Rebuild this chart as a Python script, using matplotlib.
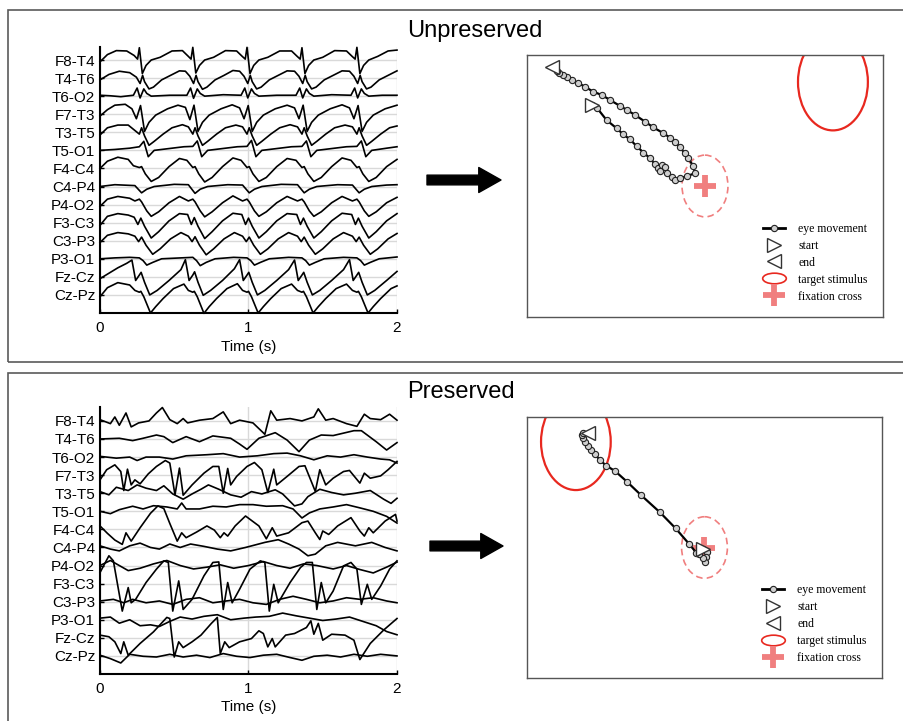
import numpy as np
import matplotlib.pyplot as plt
from matplotlib.patches import Ellipse, Rectangle, FancyArrowPatch
from matplotlib.lines import Line2D
from matplotlib.path import Path
from matplotlib.transforms import Affine2D

plt.rcParams['font.family'] = ['Liberation Sans', 'DejaVu Sans']

# --- EEG channels (top to bottom) ---
channels = ['F8-T4', 'T4-T6', 'T6-O2', 'F7-T3', 'T3-T5', 'T5-O1', 'F4-C4',
            'C4-P4', 'P4-O2', 'F3-C3', 'C3-P3', 'P3-O1', 'Fz-Cz', 'Cz-Pz']
time_ticks = [0, 1, 2]

# amplitudes in units of channel spacing, (time s, amplitude)
# unpreserved recording
up_F8T4 = [(0, -0.1), (0.05, 0.3), (0.11, 0.52), (0.18, 0.5), (0.23, 0.25),
           (0.253, 0.05), (0.265, 0.68), (0.285, -0.75), (0.31, -0.3), (0.345, 0.0), (0.405, 0.15), (0.485, 0.5), (0.555, 0.52), (0.595, 0.2),
           (0.613, 0.05), (0.625, 0.7), (0.645, -0.72), (0.67, -0.3), (0.705, 0.0), (0.765, 0.15), (0.845, 0.52), (0.92, 0.5), (0.958, 0.2),
           (0.978, 0.05), (0.99, 0.7), (1.01, -0.75), (1.035, -0.3), (1.07, 0.0), (1.13, 0.15), (1.21, 0.5), (1.29, 0.5), (1.328, 0.2),
           (1.348, 0.05), (1.36, 0.68), (1.38, -0.75), (1.405, -0.3), (1.44, 0.0), (1.5, 0.15), (1.58, 0.52), (1.66, 0.5), (1.698, 0.2),
           (1.718, 0.05), (1.73, 0.7), (1.75, -0.75), (1.775, -0.3), (1.81, 0.0), (1.87, 0.2), (1.94, 0.5), (2.0, 0.55)]
up_T4T6 = [(0, -0.1), (0.06, 0.2), (0.13, 0.38), (0.2, 0.3), (0.245, 0.05),
           (0.27, -0.3), (0.287, 0.15), (0.3, -0.2), (0.33, -0.6), (0.36, -0.5), (0.415, -0.1), (0.475, 0.15), (0.535, 0.4), (0.575, 0.38), (0.605, 0.1),
           (0.63, -0.3), (0.647, 0.15), (0.66, -0.2), (0.69, -0.62), (0.72, -0.5), (0.775, -0.1), (0.835, 0.15), (0.895, 0.42), (0.94, 0.38), (0.97, 0.1),
           (0.995, -0.3), (1.012, 0.15), (1.025, -0.2), (1.055, -0.6), (1.085, -0.5), (1.14, -0.1), (1.2, 0.15), (1.26, 0.4), (1.31, 0.38), (1.34, 0.1),
           (1.365, -0.3), (1.382, 0.15), (1.395, -0.2), (1.425, -0.6), (1.455, -0.5), (1.51, -0.1), (1.57, 0.15), (1.63, 0.4), (1.68, 0.38), (1.71, 0.1),
           (1.735, -0.3), (1.752, 0.15), (1.765, -0.2), (1.795, -0.6), (1.825, -0.5), (1.88, -0.1), (1.94, 0.15), (2.0, 0.4)]
up_T6O2 = [(0, 0.05), (0.07, 0.02), (0.14, -0.03), (0.225, 0.05),
           (0.25, 0.45), (0.27, -0.1), (0.295, 0.4), (0.315, 0.15), (0.345, 0.0), (0.47, 0.05), (0.585, 0.05),
           (0.61, 0.45), (0.63, -0.12), (0.655, 0.4), (0.675, 0.15), (0.705, 0.0), (0.83, 0.08), (0.95, 0.05),
           (0.975, 0.45), (0.995, -0.1), (1.02, 0.4), (1.04, 0.15), (1.07, 0.0), (1.19, 0.05), (1.32, 0.05),
           (1.345, 0.45), (1.365, -0.1), (1.39, 0.4), (1.41, 0.15), (1.44, 0.0), (1.56, 0.08), (1.69, 0.05),
           (1.715, 0.45), (1.735, -0.1), (1.76, 0.4), (1.78, 0.15), (1.81, 0.0), (1.9, 0.05), (2.0, 0.05)]
up_F7T3 = [(0, -0.1), (0.05, 0.25), (0.1, 0.5), (0.17, 0.55), (0.215, 0.3),
           (0.245, -0.25), (0.273, 0.48), (0.3, -0.95), (0.33, -0.45), (0.375, -0.05), (0.455, 0.3), (0.525, 0.5), (0.575, 0.38),
           (0.605, -0.3), (0.633, 0.5), (0.66, -0.95), (0.69, -0.45), (0.735, -0.05), (0.815, 0.3), (0.89, 0.52), (0.94, 0.35),
           (0.97, -0.25), (0.998, 0.48), (1.025, -0.95), (1.055, -0.45), (1.1, -0.05), (1.18, 0.3), (1.26, 0.5), (1.31, 0.35),
           (1.34, -0.25), (1.368, 0.5), (1.395, -0.95), (1.425, -0.45), (1.47, -0.05), (1.55, 0.3), (1.63, 0.52), (1.68, 0.35),
           (1.71, -0.25), (1.738, 0.48), (1.765, -0.95), (1.795, -0.45), (1.84, -0.05), (1.92, 0.3), (2.0, 0.5)]
up_T3T5 = [(0, -0.15), (0.05, 0.25), (0.12, 0.4), (0.19, 0.4), (0.235, 0.1),
           (0.265, -0.1), (0.28, 0.25), (0.3, -0.2), (0.33, -0.72), (0.365, -0.5), (0.425, -0.1), (0.485, 0.25), (0.555, 0.42), (0.595, 0.3),
           (0.625, -0.1), (0.64, 0.25), (0.66, -0.2), (0.69, -0.72), (0.725, -0.5), (0.785, -0.1), (0.845, 0.25), (0.915, 0.4), (0.96, 0.3),
           (0.99, -0.1), (1.005, 0.25), (1.025, -0.2), (1.055, -0.72), (1.09, -0.5), (1.15, -0.1), (1.21, 0.25), (1.28, 0.42), (1.33, 0.3),
           (1.36, -0.1), (1.375, 0.25), (1.395, -0.2), (1.425, -0.72), (1.46, -0.5), (1.52, -0.1), (1.58, 0.25), (1.65, 0.4), (1.7, 0.3),
           (1.73, -0.1), (1.745, 0.25), (1.765, -0.2), (1.795, -0.72), (1.83, -0.5), (1.89, -0.1), (1.95, 0.25), (2.0, 0.35)]
up_T5O1 = [(0, 0.0), (0.1, 0.05), (0.2, 0.12), (0.265, 0.2), (0.295, 0.5), (0.325, -0.35), (0.365, 0.0), (0.465, 0.1), (0.565, 0.2),
           (0.625, 0.22), (0.655, 0.52), (0.685, -0.35), (0.725, 0.0), (0.825, 0.1), (0.925, 0.2),
           (0.99, 0.22), (1.02, 0.55), (1.05, -0.35), (1.09, 0.0), (1.19, 0.1), (1.29, 0.2),
           (1.36, 0.22), (1.39, 0.52), (1.42, -0.35), (1.46, 0.0), (1.56, 0.1), (1.66, 0.2),
           (1.73, 0.22), (1.76, 0.52), (1.79, -0.35), (1.83, 0.0), (1.93, 0.12), (2.0, 0.2)]
up_F4C4 = [(0, 0.0), (0.05, 0.4), (0.12, 0.62), (0.19, 0.5), (0.225, 0.15),
           (0.265, 0.05), (0.28, 0.1), (0.305, -0.3), (0.345, -0.72), (0.395, -0.5), (0.465, 0.1), (0.535, 0.55), (0.585, 0.45),
           (0.625, 0.05), (0.64, 0.1), (0.665, -0.3), (0.705, -0.75), (0.755, -0.5), (0.825, 0.1), (0.895, 0.58), (0.95, 0.45),
           (0.99, 0.05), (1.005, 0.1), (1.03, -0.3), (1.07, -0.72), (1.12, -0.5), (1.19, 0.1), (1.26, 0.55), (1.32, 0.45),
           (1.36, 0.05), (1.375, 0.1), (1.4, -0.3), (1.44, -0.72), (1.49, -0.5), (1.56, 0.1), (1.63, 0.58), (1.69, 0.45),
           (1.73, 0.05), (1.745, 0.1), (1.77, -0.3), (1.81, -0.72), (1.86, -0.5), (1.93, 0.1), (2.0, 0.5)]
up_C4P4 = [(0, 0.0), (0.1, 0.1), (0.235, 0.05), (0.28, -0.35), (0.315, -0.15), (0.365, 0.0), (0.5, 0.12), (0.595, 0.1),
           (0.64, -0.38), (0.675, -0.15), (0.725, 0.0), (0.86, 0.1), (0.96, 0.08),
           (1.005, -0.35), (1.04, -0.15), (1.09, 0.0), (1.22, 0.12), (1.33, 0.1),
           (1.375, -0.35), (1.41, -0.15), (1.46, 0.0), (1.6, 0.1), (1.7, 0.08),
           (1.745, -0.35), (1.78, -0.15), (1.83, 0.0), (1.93, 0.08), (2.0, 0.1)]
up_P4O2 = [(0, -0.1), (0.05, 0.3), (0.12, 0.45), (0.2, 0.35), (0.235, 0.2),
           (0.265, 0.3), (0.28, 0.15), (0.315, -0.35), (0.345, -0.65), (0.395, -0.4), (0.465, 0.1), (0.535, 0.45), (0.595, 0.2),
           (0.625, 0.3), (0.64, 0.15), (0.675, -0.35), (0.705, -0.68), (0.755, -0.4), (0.825, 0.1), (0.895, 0.48), (0.96, 0.2),
           (0.99, 0.3), (1.005, 0.15), (1.04, -0.35), (1.07, -0.65), (1.12, -0.4), (1.19, 0.1), (1.26, 0.45), (1.33, 0.2),
           (1.36, 0.3), (1.375, 0.15), (1.41, -0.35), (1.44, -0.65), (1.49, -0.4), (1.56, 0.1), (1.63, 0.45), (1.7, 0.2),
           (1.73, 0.3), (1.745, 0.15), (1.78, -0.35), (1.81, -0.65), (1.86, -0.4), (1.93, 0.1), (2.0, 0.4)]
up_F3C3 = [(0, -0.15), (0.05, 0.35), (0.12, 0.5), (0.19, 0.42), (0.23, 0.3),
           (0.255, -0.1), (0.275, 0.25), (0.3, -0.2), (0.345, -0.85), (0.395, -0.5), (0.465, 0.1), (0.535, 0.5), (0.59, 0.45),
           (0.615, -0.1), (0.635, 0.28), (0.66, -0.2), (0.705, -0.88), (0.755, -0.5), (0.825, 0.1), (0.895, 0.52), (0.955, 0.45),
           (0.98, -0.1), (1.0, 0.25), (1.025, -0.2), (1.07, -0.85), (1.12, -0.5), (1.19, 0.1), (1.26, 0.5), (1.325, 0.45),
           (1.35, -0.1), (1.37, 0.25), (1.395, -0.2), (1.44, -0.85), (1.49, -0.5), (1.56, 0.1), (1.63, 0.52), (1.695, 0.45),
           (1.72, -0.1), (1.74, 0.25), (1.765, -0.2), (1.81, -0.85), (1.86, -0.5), (1.93, 0.1), (2.0, 0.5)]
up_C3P3 = [(0, -0.1), (0.05, 0.3), (0.12, 0.45), (0.19, 0.38), (0.235, 0.25),
           (0.26, -0.05), (0.28, 0.2), (0.31, -0.25), (0.355, -0.75), (0.405, -0.45), (0.475, 0.1), (0.545, 0.45), (0.595, 0.25),
           (0.62, -0.05), (0.64, 0.22), (0.67, -0.25), (0.715, -0.78), (0.765, -0.45), (0.835, 0.1), (0.905, 0.45), (0.96, 0.25),
           (0.985, -0.05), (1.005, 0.2), (1.035, -0.25), (1.08, -0.75), (1.13, -0.45), (1.2, 0.1), (1.27, 0.45), (1.33, 0.25),
           (1.355, -0.05), (1.375, 0.2), (1.405, -0.25), (1.45, -0.75), (1.5, -0.45), (1.57, 0.1), (1.64, 0.45), (1.7, 0.25),
           (1.725, -0.05), (1.745, 0.2), (1.775, -0.25), (1.82, -0.75), (1.87, -0.45), (1.94, 0.1), (2.0, 0.4)]
up_P3O1 = [(0, 0.0), (0.1, 0.05), (0.2, 0.08), (0.265, 0.05), (0.29, -0.1), (0.315, -0.35), (0.355, -0.2), (0.415, 0.0), (0.545, 0.05),
           (0.625, 0.08), (0.65, -0.1), (0.675, -0.38), (0.715, -0.2), (0.775, 0.0), (0.9, 0.08),
           (0.99, 0.05), (1.015, -0.1), (1.04, -0.35), (1.08, -0.2), (1.14, 0.0), (1.27, 0.08),
           (1.36, 0.05), (1.385, -0.1), (1.41, -0.35), (1.45, -0.2), (1.51, 0.0), (1.64, 0.08),
           (1.73, 0.05), (1.755, -0.1), (1.78, -0.35), (1.82, -0.2), (1.88, 0.0), (2.0, 0.1)]
up_FzCz = [(0, -0.1), (0.06, 0.2), (0.12, 0.5), (0.18, 0.75),
           (0.215, 0.93), (0.24, -0.2), (0.265, 0.1), (0.277, 0.25), (0.3, -0.3), (0.335, -1.0), (0.385, -0.75), (0.465, -0.2), (0.545, 0.4),
           (0.575, 0.95), (0.6, -0.2), (0.625, 0.1), (0.637, 0.28), (0.66, -0.3), (0.695, -1.02), (0.745, -0.75), (0.825, -0.2), (0.905, 0.45),
           (0.94, 0.95), (0.965, -0.2), (0.99, 0.1), (1.002, 0.25), (1.025, -0.3), (1.06, -1.0), (1.11, -0.75), (1.19, -0.2), (1.27, 0.4),
           (1.31, 0.93), (1.335, -0.2), (1.36, 0.1), (1.372, 0.25), (1.395, -0.3), (1.43, -1.0), (1.48, -0.75), (1.56, -0.2), (1.64, 0.4),
           (1.68, 0.95), (1.705, -0.2), (1.73, 0.1), (1.742, 0.25), (1.765, -0.3), (1.8, -1.0), (1.85, -0.75), (1.93, -0.2), (2.0, 0.3)]
up_CzPz = [(0, -0.1), (0.05, 0.4), (0.12, 0.68), (0.2, 0.55), (0.235, 0.25),
           (0.265, 0.15), (0.275, 0.2), (0.295, -0.1), (0.34, -1.0), (0.375, -0.65), (0.425, -0.2), (0.495, 0.35), (0.565, 0.6), (0.595, 0.25),
           (0.625, 0.15), (0.635, 0.2), (0.655, -0.1), (0.7, -1.02), (0.735, -0.65), (0.785, -0.2), (0.855, 0.35), (0.925, 0.62), (0.96, 0.25),
           (0.99, 0.15), (1.0, 0.2), (1.02, -0.1), (1.065, -1.0), (1.1, -0.65), (1.15, -0.2), (1.22, 0.35), (1.29, 0.6), (1.33, 0.25),
           (1.36, 0.15), (1.37, 0.2), (1.39, -0.1), (1.435, -1.0), (1.47, -0.65), (1.52, -0.2), (1.59, 0.35), (1.66, 0.6), (1.7, 0.25),
           (1.73, 0.15), (1.74, 0.2), (1.76, -0.1), (1.805, -1.0), (1.84, -0.65), (1.89, -0.2), (1.96, 0.35), (2.0, 0.5)]

# preserved recording
pr_F8T4 = [(0, 0.07), (0.07, -0.15), (0.10, 0.22), (0.13, -0.24), (0.175, 0.44), (0.21, -0.33), (0.26, -0.11), (0.33, 0.0),
           (0.38, 0.44), (0.42, 0.74), (0.47, 0.07), (0.52, -0.15), (0.56, 0.13), (0.59, -0.11), (0.67, 0.04), (0.76, 0.13),
           (0.83, 0.5), (0.88, -0.15), (0.94, 0.04), (1.03, -0.11), (1.11, -0.74), (1.15, 0.56), (1.19, 0.04), (1.28, 0.13),
           (1.36, 0.0), (1.44, 0.22), (1.47, 0.67), (1.52, 0.04), (1.57, 0.13), (1.66, -0.15), (1.73, -0.3), (1.78, 0.37),
           (1.82, 0.13), (1.89, 0.07), (1.95, 0.37), (2.0, 0.04)]
pr_T4T6 = [(0, 0.0), (0.13, 0.04), (0.22, -0.09), (0.29, 0.04), (0.38, 0.22), (0.43, 0.13), (0.49, -0.2), (0.58, 0.13),
           (0.67, -0.15), (0.76, 0.17), (0.88, 0.04), (0.94, -0.28), (0.99, -0.57), (1.07, 0.04), (1.18, 0.35), (1.26, -0.06),
           (1.34, -0.7), (1.41, -0.06), (1.49, 0.22), (1.57, 0.19), (1.71, 0.46), (1.76, 0.46), (1.86, -0.15), (1.93, -0.61), (2.0, -0.2)]
pr_T6O2 = [(0, 0.04), (0.11, -0.06), (0.2, 0.0), (0.25, -0.19), (0.31, 0.0), (0.4, 0.0), (0.49, -0.11), (0.58, 0.07),
           (0.72, 0.13), (0.83, 0.19), (0.94, 0.0), (1.06, 0.07), (1.17, 0.19), (1.26, 0.22), (1.35, 0.07), (1.44, -0.15),
           (1.53, 0.07), (1.62, 0.0), (1.71, 0.13), (1.8, 0.0), (1.89, -0.11), (1.95, -0.15), (2.0, -0.33)]
pr_F7T3 = [(0, -0.26), (0.045, 0.3), (0.1, 0.57), (0.14, 0.2), (0.16, -0.85), (0.185, 0.33), (0.21, -0.54), (0.235, -0.26),
           (0.27, -0.48), (0.325, 0.07), (0.38, 0.48), (0.44, 0.81), (0.47, 0.67), (0.505, -1.09), (0.535, 0.39), (0.56, -1.11),
           (0.62, -0.54), (0.7, 0.11), (0.76, 0.48), (0.8, 0.48), (0.83, -1.0), (0.86, 0.37), (0.88, -0.54), (0.92, -0.07),
           (0.99, 0.48), (1.04, 0.7), (1.09, 0.3), (1.13, -0.96), (1.17, 0.33), (1.19, -0.54), (1.26, -0.07), (1.34, 0.48),
           (1.38, 0.52), (1.45, -0.9), (1.48, 0.3), (1.52, -0.54), (1.57, -0.17), (1.64, 0.2), (1.68, 0.26), (1.75, -0.44),
           (1.78, 0.11), (1.82, -0.17), (1.89, -0.04), (1.94, 0.3), (2.0, 0.76)]
pr_T3T5 = [(0, 0.09), (0.06, -0.09), (0.11, 0.33), (0.19, 0.15), (0.25, 0.46), (0.31, 0.28), (0.38, 0.15), (0.43, 0.41),
           (0.49, -0.04), (0.56, -0.33), (0.62, -0.04), (0.68, 0.22), (0.73, 0.46), (0.8, 0.22), (0.88, -0.09), (0.95, -0.22),
           (1.02, 0.09), (1.09, -0.04), (1.18, 0.19), (1.23, -0.04), (1.31, -0.7), (1.36, -0.59), (1.4, -0.19), (1.48, 0.22),
           (1.56, 0.04), (1.64, -0.09), (1.72, 0.0), (1.82, 0.15), (1.91, -0.33), (1.96, -0.56), (2.0, -0.28)]
pr_T5O1 = [(0, 0.0), (0.07, -0.13), (0.13, 0.09), (0.22, 0.28), (0.29, 0.13), (0.36, 0.31), (0.45, 0.24), (0.52, 0.13),
           (0.55, 0.46), (0.58, 0.13), (0.67, 0.13), (0.76, 0.28), (0.85, 0.24), (0.94, 0.37), (1.03, 0.37), (1.12, 0.28),
           (1.23, 0.31), (1.3, 0.13), (1.36, -0.37), (1.41, -0.09), (1.48, 0.13), (1.57, 0.24), (1.66, 0.37), (1.75, 0.19),
           (1.84, 0.0), (1.93, -0.28), (2.0, -0.65)]
pr_F4C4 = [(0, 0.19), (0.05, -0.22), (0.10, -0.59), (0.15, -0.83), (0.175, -0.19), (0.21, -0.65), (0.27, 0.09), (0.34, 0.89),
           (0.39, 1.3), (0.43, 1.15), (0.47, 0.33), (0.52, -0.65), (0.55, -0.19), (0.58, -0.46), (0.65, -0.15), (0.72, 0.19),
           (0.77, -0.04), (0.81, -0.46), (0.835, -0.19), (0.86, -0.37), (0.91, 0.19), (0.98, 0.74), (1.07, 0.19), (1.12, -0.52),
           (1.16, 0.09), (1.19, -0.37), (1.27, -0.19), (1.36, 0.37), (1.4, 0.46), (1.45, -0.19), (1.48, -0.56), (1.5, -0.09),
           (1.54, -0.28), (1.6, 0.19), (1.69, 0.65), (1.75, -0.09), (1.78, -0.37), (1.81, 0.09), (1.84, -0.19), (1.92, 0.46),
           (1.99, 0.83), (2.0, 0.46)]
pr_C4P4 = [(0, 0.09), (0.07, -0.09), (0.13, -0.19), (0.2, 0.09), (0.27, 0.24), (0.34, 0.0), (0.4, -0.09), (0.47, 0.19),
           (0.54, 0.0), (0.61, 0.19), (0.7, 0.06), (0.79, -0.09), (0.88, -0.19), (0.98, 0.0), (1.11, 0.28), (1.2, 0.43),
           (1.27, 0.19), (1.34, -0.09), (1.4, -0.46), (1.45, -0.37), (1.52, 0.09), (1.6, 0.28), (1.72, 0.09), (1.83, 0.28),
           (1.92, 0.0), (2.0, -0.19)]
pr_P4O2 = [(0, 0.0), (0.07, 0.28), (0.13, 0.0), (0.19, -0.28), (0.27, -0.15), (0.36, 0.09), (0.45, 0.28), (0.54, 0.0),
           (0.63, -0.19), (0.72, -0.09), (0.81, 0.04), (0.9, -0.15), (1.0, 0.0), (1.1, 0.22), (1.19, 0.0), (1.28, -0.15),
           (1.37, 0.09), (1.46, 0.0), (1.57, -0.19), (1.66, 0.0), (1.75, -0.22), (1.84, -0.41), (1.93, -0.09), (2.0, 0.19)]
pr_F3C3 = [(0, 0.61), (0.06, 1.54), (0.09, 1.26), (0.15, -1.52), (0.19, -0.22), (0.21, -1.06), (0.24, -0.87), (0.31, 0.06),
           (0.38, 0.8), (0.43, 1.26), (0.46, 1.17), (0.49, -1.52), (0.53, 0.15), (0.56, -1.43), (0.62, -0.87), (0.7, 0.43),
           (0.76, 1.17), (0.8, 1.2), (0.83, -1.43), (0.86, 0.06), (0.89, -1.06), (0.94, -0.31), (1.01, 0.8), (1.08, 1.26),
           (1.11, 1.17), (1.14, -1.52), (1.17, -0.04), (1.2, -1.06), (1.28, 0.06), (1.35, 0.89), (1.39, 1.17), (1.43, 1.17),
           (1.46, -1.43), (1.49, 0.06), (1.52, -1.06), (1.57, -0.41), (1.64, 0.98), (1.69, 1.17), (1.73, 0.8), (1.76, -1.15),
           (1.8, -0.04), (1.83, -0.87), (1.89, -0.13), (1.95, 0.8), (2.0, 1.26)]
pr_C3P3 = [(0, 0.04), (0.09, 0.13), (0.16, -0.06), (0.22, 0.13), (0.31, -0.06), (0.4, 0.04), (0.49, -0.15), (0.58, 0.13),
           (0.67, 0.22), (0.76, -0.06), (0.85, 0.04), (0.94, 0.13), (1.03, -0.06), (1.12, -0.15), (1.21, 0.13), (1.3, 0.3),
           (1.39, 0.13), (1.48, -0.06), (1.57, 0.04), (1.66, 0.22), (1.75, 0.13), (1.84, 0.22), (1.93, 0.04), (2.0, -0.06)]
pr_P3O1 = [(0, 0.09), (0.07, 0.15), (0.13, -0.19), (0.2, 0.0), (0.27, -0.33), (0.34, -0.28), (0.4, -0.37), (0.47, -0.09),
           (0.54, 0.15), (0.62, 0.04), (0.7, 0.19), (0.79, 0.28), (0.88, 0.0), (0.97, 0.09), (1.05, 0.15), (1.14, 0.19),
           (1.23, 0.37), (1.32, 0.22), (1.41, 0.09), (1.5, -0.04), (1.59, 0.04), (1.68, 0.15), (1.77, -0.09), (1.86, -0.33),
           (1.93, -0.65), (2.0, -0.83)]
pr_FzCz = [(0, 0.15), (0.06, 0.06), (0.1, -0.22), (0.14, -0.87), (0.16, -0.22), (0.19, -0.96), (0.27, -0.31), (0.36, 0.33),
           (0.45, 1.13), (0.47, 1.07), (0.5, -1.06), (0.53, -0.22), (0.56, -0.54), (0.62, -0.22), (0.68, 0.15), (0.75, 0.8),
           (0.79, 1.13), (0.81, -0.87), (0.84, -0.22), (0.87, -0.54), (0.94, -0.22), (1.02, -0.04), (1.07, 0.39), (1.1, 0.24),
           (1.13, -0.5), (1.16, -0.04), (1.18, -0.5), (1.25, 0.15), (1.31, 0.24), (1.39, 0.57), (1.42, 0.94), (1.44, 0.2),
           (1.47, 0.8), (1.5, -0.13), (1.56, 0.2), (1.65, 0.15), (1.71, -0.13), (1.75, -1.2), (1.82, -0.31), (1.91, 0.43), (2.0, 1.07)]
pr_CzPz = [(0, 0.04), (0.07, -0.15), (0.14, -0.39), (0.2, 0.09), (0.29, -0.02), (0.38, -0.06), (0.47, 0.09), (0.56, -0.06),
           (0.65, 0.04), (0.74, -0.09), (0.83, 0.13), (0.92, -0.02), (1.01, -0.09), (1.1, 0.04), (1.19, 0.09), (1.28, -0.09),
           (1.36, -0.24), (1.44, -0.02), (1.53, 0.04), (1.62, -0.06), (1.71, 0.09), (1.8, -0.02), (1.89, 0.09), (2.0, 0.0)]

unpreserved = [up_F8T4, up_T4T6, up_T6O2, up_F7T3, up_T3T5, up_T5O1, up_F4C4,
               up_C4P4, up_P4O2, up_F3C3, up_C3P3, up_P3O1, up_FzCz, up_CzPz]
preserved = [pr_F8T4, pr_T4T6, pr_T6O2, pr_F7T3, pr_T3T5, pr_T5O1, pr_F4C4,
             pr_C4P4, pr_P4O2, pr_F3C3, pr_C3P3, pr_P3O1, pr_FzCz, pr_CzPz]

# --- eye tracking, screen coordinates (1024 x 768, y downwards) ---
fixation = (512, 384)
fix_zone = (132, 181)
up_target = (880, 79)
pr_target = (141, 73)
target_size = (201, 284)
up_gaze = [(186, 147), (202, 156), (229, 191), (258, 215), (277, 233), (296, 247), (315, 267), (335, 286),
           (354, 303), (368, 320), (378, 332), (387, 322), (383, 339), (397, 329), (402, 347), (416, 357),
           (426, 366), (440, 362), (459, 355), (483, 347), (478, 325), (464, 303), (454, 288), (440, 271),
           (426, 254), (411, 242), (390, 228), (363, 212), (339, 195), (311, 176), (287, 161), (267, 149),
           (239, 132), (215, 117), (191, 108), (167, 93), (148, 83), (129, 73), (114, 65), (103, 59),
           (93, 52), (85, 46)]
up_start = (186, 147)
up_end = (71, 34)
pr_gaze = [(507, 387), (518, 396), (516, 411), (514, 426), (507, 416), (497, 403), (488, 399), (468, 374),
           (429, 328), (384, 281), (329, 230), (289, 191), (254, 159), (228, 143), (211, 127), (196, 110),
           (184, 97), (175, 84), (168, 73), (162, 63), (159, 53), (161, 46)]
pr_start = (507, 387)
pr_end = (177, 48)

fig = plt.figure(figsize=(9.04, 7.21), dpi=100)
W, H = 904, 721


def frac(x0, y0, x1, y1):
    # pixel box -> figure fraction rect
    return [x0 / W, 1 - y1 / H, (x1 - x0) / W, (y1 - y0) / H]


# panel frames
for y0, y1 in [(10, 362), (373, 740)]:
    fig.add_artist(Rectangle((8 / W, 1 - y1 / H), 1.1, (y1 - y0) / H, transform=fig.transFigure,
                             fill=False, edgecolor='#5a5a5a', lw=1.2))

fig.text(407 / W, 1 - 37.5 / H, 'Unpreserved', fontsize=17, ha='left', va='baseline')
fig.text(407 / W, 1 - 398 / H, 'Preserved', fontsize=17, ha='left', va='baseline')


def draw_eeg(rect, traces, ytop):
    ax = fig.add_axes(rect)
    n = len(channels)
    for i, tr in enumerate(traces):
        t = np.array([p[0] for p in tr])
        a = np.array([p[1] for p in tr])
        ax.plot(t, n - 1 - i + a, color='black', lw=1.2, clip_on=False, zorder=3)
    ax.set_xlim(0, 2)
    ax.set_ylim(-1.0, ytop)
    ax.set_yticks(range(n - 1, -1, -1))
    ax.set_yticklabels(channels)
    ax.set_xticks(time_ticks)
    ax.grid(True, color='#d9d9d9', lw=1)
    ax.set_axisbelow(True)
    for s in ['top', 'right']:
        ax.spines[s].set_visible(False)
    for s in ['left', 'bottom']:
        ax.spines[s].set_linewidth(1.5)
    ax.tick_params(axis='y', direction='in', length=3, width=1, labelsize=11, pad=3.5)
    ax.tick_params(axis='x', direction='in', length=3, width=1, labelsize=11, pad=6)
    ax.set_xlabel('Time (s)', fontsize=11, labelpad=3)
    return ax


draw_eeg(frac(100, 47, 397, 313), unpreserved, 13.72)
draw_eeg(frac(100, 407, 397, 674), preserved, 13.77)

ellipse_marker = Path.unit_circle().transformed(Affine2D().scale(1, 0.45))
cross_color = '#f07f7f'
red = '#e8281f'


def draw_eye(rect, gaze, start, end, target):
    ax = fig.add_axes(rect)
    ax.set_xlim(0, 1024)
    ax.set_ylim(768, 0)
    ax.set_xticks([])
    ax.set_yticks([])
    for s in ax.spines.values():
        s.set_edgecolor('#555555')
        s.set_linewidth(1.0)
    ax.add_patch(Ellipse(target, target_size[0], target_size[1], fill=False, edgecolor=red, lw=1.6))
    ax.add_patch(Ellipse(fixation, fix_zone[0], fix_zone[1], fill=False, edgecolor=cross_color,
                         lw=1.2, ls=(0, (4, 2.5))))
    ax.plot(*fixation, marker='+', ms=16, mew=4.2, color=cross_color, zorder=3)
    gx = [p[0] for p in gaze]
    gy = [p[1] for p in gaze]
    ax.plot(gx, gy, '-o', color='black', lw=1.6, ms=4.5, mfc='#cfcfcf', mec='#222222', mew=0.8, zorder=4)
    ax.plot(*start, marker='>', ms=10, mfc='white', mec='#333333', mew=1.0, zorder=5)
    ax.plot(*end, marker='<', ms=10, mfc='white', mec='#333333', mew=1.0, zorder=5)

    handles = [
        Line2D([], [], color='black', lw=2, marker='o', ms=4.5, mfc='#cfcfcf', mec='#222222', mew=0.8),
        Line2D([], [], ls='none', marker='>', ms=10, mfc='white', mec='#333333', mew=1.0),
        Line2D([], [], ls='none', marker='<', ms=10, mfc='white', mec='#333333', mew=1.0),
        Line2D([], [], ls='none', marker=ellipse_marker, ms=17, mfc='none', mec=red, mew=1.2),
        Line2D([], [], ls='none', marker='+', ms=16, mew=4.2, color=cross_color),
    ]
    labels = ['eye movement', 'start', 'end', 'target stimulus', 'fixation cross']
    ax.legend(handles, labels, loc='upper left', bbox_to_anchor=(0.662, 0.36), frameon=False,
              prop={'family': ['Liberation Serif', 'DejaVu Serif'], 'size': 8.5},
              handlelength=1.9, handletextpad=1.1, labelspacing=0.42, borderpad=0, borderaxespad=0,
              numpoints=1)
    return ax


draw_eye(frac(527, 55, 883, 317), up_gaze, up_start, up_end, up_target)
draw_eye(frac(527, 417, 882, 678), pr_gaze, pr_start, pr_end, pr_target)

# arrows between the panels
for y, x0, x1 in [(180, 427, 501), (546, 430, 503)]:
    fig.add_artist(FancyArrowPatch((x0 / W, 1 - y / H), (x1 / W, 1 - y / H), transform=fig.transFigure,
                                   arrowstyle='simple,head_length=1.6,head_width=1.8,tail_width=0.7',
                                   mutation_scale=10, color='black', shrinkA=0, shrinkB=0))

fig.savefig('out.png', dpi=100, facecolor='white')
